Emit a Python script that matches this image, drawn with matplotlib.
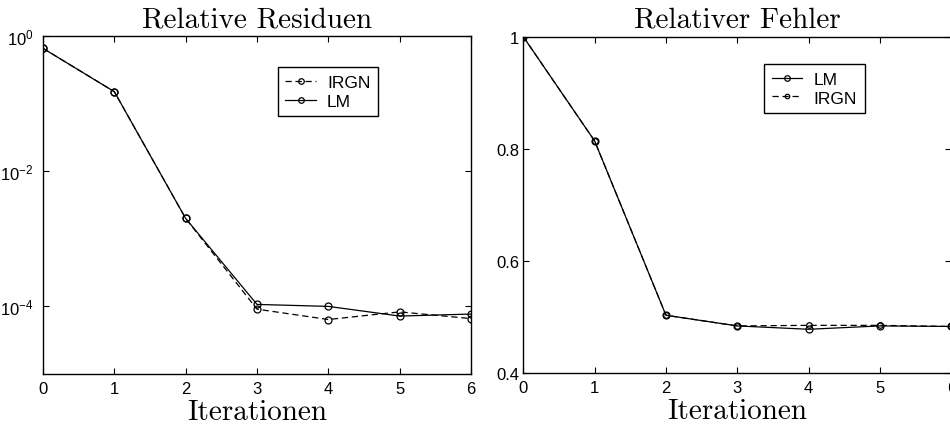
import matplotlib
matplotlib.use("Agg")
import matplotlib.pyplot as plt

# iteration index and convergence histories of both methods
iterations = [0, 1, 2, 3, 4, 5, 6]

res_lm = [0.657, 0.15, 2.0e-3, 1.07e-4, 1.0e-4, 7.2e-5, 7.7e-5]
res_irgn = [0.657, 0.15, 2.0e-3, 9.1e-5, 6.4e-5, 8.3e-5, 6.6e-5]

err_lm = [1.0, 0.814, 0.503, 0.484, 0.478, 0.484, 0.483]
err_irgn = [1.0, 0.814, 0.503, 0.484, 0.485, 0.485, 0.483]

res_yticks = [1e-4, 1e-2, 1e0]
res_yticklabels = [r"$10^{-4}$", r"$10^{-2}$", r"$10^{0}$"]
err_yticks = [0.4, 0.6, 0.8, 1.0]
err_yticklabels = ["0.4", "0.6", "0.8", "1"]

plt.rcParams["font.family"] = ["Liberation Sans", "DejaVu Sans"]
plt.rcParams["mathtext.fontset"] = "custom"
plt.rcParams["mathtext.rm"] = "Liberation Sans"
plt.rcParams["mathtext.it"] = "Liberation Sans:italic"
plt.rcParams["mathtext.bf"] = "Liberation Sans:bold"

W, H = 950, 427
fig = plt.figure(figsize=(W / 100, H / 100), dpi=100)
fig.patch.set_facecolor("white")

serif = {"family": "cmr10", "size": 21}


def style_axes(ax):
    for sp in ax.spines.values():
        sp.set_linewidth(1.0)
    ax.tick_params(direction="in", length=4, width=0.8, top=True, right=True,
                   labelsize=12, colors="black")
    ax.tick_params(axis="x", pad=5)
    ax.minorticks_off()


def draw_legend(ax, anchor):
    leg = ax.legend(loc="upper left", bbox_to_anchor=anchor, borderaxespad=0,
                    fontsize=12.5, fancybox=False, framealpha=1, edgecolor="black",
                    handlelength=1.75, handletextpad=0.65, labelspacing=0.2,
                    borderpad=0.45, markerscale=0.8)
    leg.get_frame().set_linewidth(1.0)


# left panel: relative residuals on a log scale
ax1 = fig.add_axes([43 / W, (H - 375) / H, 428 / W, 338 / H])
ax1.semilogy(iterations, res_irgn, "--o", color="black", lw=0.9, ms=5,
             mfc="none", mew=0.9, label="IRGN", dashes=(5, 3))
ax1.semilogy(iterations, res_lm, "-o", color="black", lw=0.9, ms=5,
             mfc="none", mew=0.9, label="LM")
ax1.set_xlim(0, 6)
ax1.set_ylim(1e-5, 1)
ax1.set_xticks(iterations)
ax1.set_yticks(res_yticks)
ax1.set_yticklabels(res_yticklabels)
style_axes(ax1)
ax1.tick_params(axis="y", pad=7)
ax1.set_title("Relative Residuen", fontdict=serif, pad=7)
ax1.set_xlabel("Iterationen", fontdict=serif, labelpad=2)
draw_legend(ax1, (0.548, 0.908))

# right panel: relative error
ax2 = fig.add_axes([523.3 / W, (H - 374) / H, 428 / W, 336.3 / H])
ax2.plot(iterations, err_lm, "-o", color="black", lw=0.9, ms=5,
         mfc="none", mew=0.9, label="LM")
ax2.plot(iterations, err_irgn, "--o", color="black", lw=0.9, ms=4,
         mfc="none", mew=0.9, label="IRGN", dashes=(5, 3))
ax2.set_xlim(0, 6)
ax2.set_ylim(0.4, 1.0)
ax2.set_xticks(iterations)
ax2.set_yticks(err_yticks)
ax2.set_yticklabels(err_yticklabels)
style_axes(ax2)
ax2.tick_params(axis="y", pad=3)
ax2.set_title("Relativer Fehler", fontdict=serif, pad=7)
ax2.set_xlabel("Iterationen", fontdict=serif, labelpad=2)
draw_legend(ax2, (0.562, 0.919))

fig.savefig("out.png", dpi=100, facecolor="white")
